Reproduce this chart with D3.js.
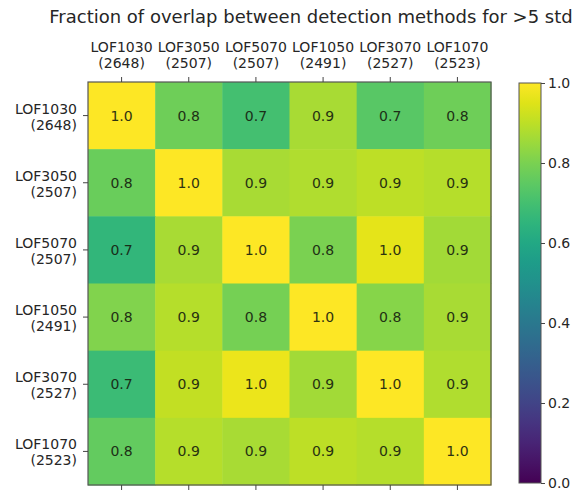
<!DOCTYPE html>
<html>
<head>
<meta charset="utf-8">
<script src="https://cdn.jsdelivr.net/npm/d3@7"></script>
<style>
	body { margin: 0; background: #fff; }
	text { font-family: "DejaVu Sans", sans-serif; fill: #262626; }
</style>
</head>
<body>
<script>

// methods and their outlier counts
var methods = ["LOF1030", "LOF3050", "LOF5070", "LOF1050", "LOF3070", "LOF1070"];
var counts = ["2648", "2507", "2507", "2491", "2527", "2523"];

// overlap fractions, one row per method (estimated from colours)
var row0 = [1.00, 0.78, 0.70, 0.87, 0.74, 0.78];
var row1 = [0.77, 1.00, 0.87, 0.88, 0.90, 0.89];
var row2 = [0.66, 0.87, 1.00, 0.80, 0.96, 0.86];
var row3 = [0.81, 0.89, 0.79, 1.00, 0.82, 0.87];
var row4 = [0.68, 0.91, 0.97, 0.86, 1.00, 0.88];
var row5 = [0.76, 0.89, 0.87, 0.90, 0.89, 1.00];
var colorTicks = [0, 0.2, 0.4, 0.6, 0.8, 1.0];

var rows = [row0, row1, row2, row3, row4, row5];

var w = 580;
var h = 493;
var mLeft = 88, mTop = 82, size = 403;

var cells = [];
rows.forEach((r, i) => r.forEach((v, j) => cells.push({row: i, col: j, value: v})));

var svg = d3.select("body")
	.append("svg")
	.attr("width", w)
	.attr("height", h);

var x = d3.scaleBand().domain(d3.range(6)).range([mLeft, mLeft + size]);
var y = d3.scaleBand().domain(d3.range(6)).range([mTop, mTop + size]);
var color = d3.scaleSequential(d3.interpolateViridis).domain([0, 1]);

//Title
svg.append("text")
	.text("Fraction of overlap between detection methods for >5 std")
	.attr("x", 311)
	.attr("y", 23)
	.attr("text-anchor", "middle")
	.attr("font-size", "18px");

//Cells
svg.selectAll("rect.cell")
	.data(cells)
	.enter()
	.append("rect")
	.attr("class", "cell")
	.attr("x", d => x(d.col))
	.attr("y", d => y(d.row))
	.attr("width", x.bandwidth() + 0.5)
	.attr("height", y.bandwidth() + 0.5)
	.attr("fill", d => color(d.value));

svg.selectAll("text.val")
	.data(cells)
	.enter()
	.append("text")
	.attr("class", "val")
	.text(d => d3.format(".1f")(Math.round(d.value * 10) / 10))
	.attr("x", d => x(d.col) + x.bandwidth() / 2)
	.attr("y", d => y(d.row) + y.bandwidth() / 2 + 5)
	.attr("text-anchor", "middle")
	.attr("font-size", "14px")
	.style("fill", "#16200f")
	.style("opacity", 0.9);

//frame
svg.append("rect")
	.attr("x", mLeft)
	.attr("y", mTop)
	.attr("width", size)
	.attr("height", size)
	.attr("fill", "none")
	.attr("stroke", "#555")
	.attr("stroke-width", 1.2);

//Axes
var topAxis = d3.axisTop(x).tickSize(5).tickFormat("");
var bottomAxis = d3.axisBottom(x).tickSize(5).tickFormat("");
var leftAxis = d3.axisLeft(y).tickSize(5).tickFormat("");

[[topAxis, "translate(0," + mTop + ")"],
 [bottomAxis, "translate(0," + (mTop + size) + ")"],
 [leftAxis, "translate(" + mLeft + ",0)"]].forEach(a => {
	var g = svg.append("g").attr("transform", a[1]).call(a[0]);
	g.select(".domain").remove();
	g.selectAll("line").attr("stroke", "#444");
});

//Column labels
var colLab = svg.selectAll("text.col")
	.data(methods)
	.enter()
	.append("text")
	.attr("class", "col")
	.attr("text-anchor", "middle")
	.attr("font-size", "14px");
colLab.append("tspan")
	.attr("x", (d, i) => x(i) + x.bandwidth() / 2)
	.attr("y", 52)
	.text(d => d);
colLab.append("tspan")
	.attr("x", (d, i) => x(i) + x.bandwidth() / 2)
	.attr("y", 68)
	.text((d, i) => "(" + counts[i] + ")");

//Row labels
var rowLab = svg.selectAll("text.rowlab")
	.data(methods)
	.enter()
	.append("text")
	.attr("class", "rowlab")
	.attr("text-anchor", "end")
	.attr("font-size", "14px");
rowLab.append("tspan")
	.attr("x", 77)
	.attr("y", (d, i) => y(i) + y.bandwidth() / 2 - 2)
	.text(d => d);
rowLab.append("tspan")
	.attr("x", 77)
	.attr("y", (d, i) => y(i) + y.bandwidth() / 2 + 14)
	.text((d, i) => "(" + counts[i] + ")");

//Colorbar
var cbX = 519, cbW = 22, cbTop = 83, cbBot = 483;
var cbScale = d3.scaleLinear().domain([0, 1]).range([cbBot, cbTop]);

var grad = svg.append("defs").append("linearGradient")
	.attr("id", "viridis")
	.attr("x1", 0).attr("y1", 1).attr("x2", 0).attr("y2", 0);
d3.range(0, 1.0001, 0.05).forEach(t => {
	grad.append("stop").attr("offset", t).attr("stop-color", color(t));
});

svg.append("rect")
	.attr("x", cbX)
	.attr("y", cbTop)
	.attr("width", cbW)
	.attr("height", cbBot - cbTop)
	.attr("fill", "url(#viridis)")
	.attr("stroke", "#555")
	.attr("stroke-width", 1);

var cbAxis = d3.axisRight(cbScale)
	.tickValues(colorTicks)
	.tickSize(4)
	.tickFormat(d3.format(".1f"));

var cbG = svg.append("g")
	.attr("transform", "translate(" + (cbX + cbW) + ",0)")
	.call(cbAxis);
cbG.select(".domain").remove();
cbG.selectAll("line").attr("stroke", "#444");
cbG.selectAll("text")
	.attr("font-size", "14px")
	.attr("font-family", "DejaVu Sans, sans-serif")
	.attr("x", 7);

</script>
</body>
</html>
